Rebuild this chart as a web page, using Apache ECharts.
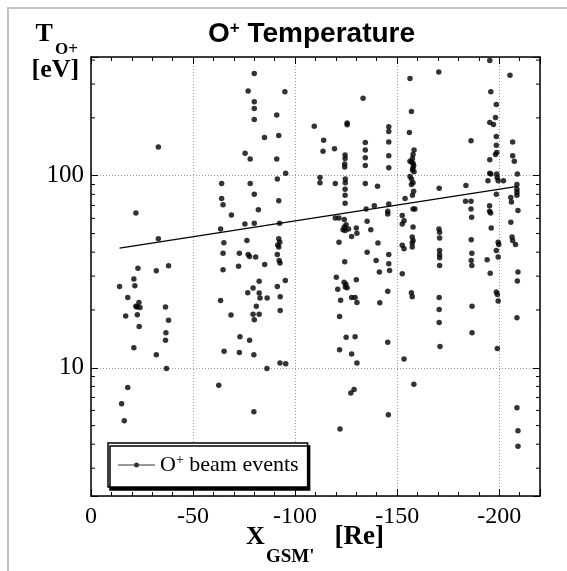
<!DOCTYPE html>
<html>
<head>
<meta charset="utf-8">
<script src="https://cdn.jsdelivr.net/npm/echarts@6/dist/echarts.min.js"></script>
<style>html,body{margin:0;padding:0;background:#fff}#c{width:567px;height:571px}</style>
</head>
<body>
<div id="c"></div>
<script>
// ---- data (X_GSM' [Re], T_O+ [eV]) ----
const eventsNear = [[-33,141],[-22,64],[-33,47],[-23,33],[-32,32],[-38,34],[-21,29],[-21.5,26.7],[-14,26.5],[-18,23.2],[-23.5,21.9],[-22.5,20.7],[-24,20.6],[-22,20.9],[-17,18.6],[-22.7,18.9],[-23.6,16.4],[-36.5,20.7],[-38,17.7],[-36.7,15.2],[-36.5,13.9],[-21,12.7],[-32,11.7],[-37,9.9],[-18,7.9],[-15,6.5],[-16.3,5.3]];
const eventsMid = [[-80,341],[-77,276],[-80,243],[-80,224],[-80,196],[-95,274],[-91,207],[-92,162],[-85,158],[-75.5,131],[-78,122],[-91,122],[-95.4,103],[-91.3,96],[-64,91],[-78,91],[-80,80],[-64,76],[-92,74],
[-64.7,70.6],[-68.8,62.5],[-82,66.4],[-63.5,52.8],[-75.4,56.1],[-80,56.6],[-92.4,56.6],[-65.1,44.8],[-76.4,46],[-92,46.9],[-92.5,45.1],[-91.5,43.6],[-92,42.5],[-64.7,39.5],[-72.7,39.5],[-77,38.9],[-77.7,38],[-80.7,37.7],[-85.1,34.5],[-72.3,33.8],[-64.7,32.4],[-91.3,38.9],[-92.2,36.2],[-92.6,35.1],[-82.4,28.2],[-79.4,26],[-76.8,24.6],[-82.4,24.5],[-91.3,26.5],[-95.2,28.5],[-82.8,23.1],[-86.3,23.1],[-92.7,23.4],[-63.5,22.4],[-81,20.9],[-92.7,19.9],[-68.6,18.8],[-79.4,19],[-82.4,19],[-80,17.8],[-73,14.5],[-77.7,13.9],[-65.2,12.2],[-72.7,12],[-79.8,11.7],[-92.6,10.6],[-95.4,10.5],[-86.2,9.9],[-62.6,8.1],[-79.8,5.9]];
const eventsFar = [[-133.3,253],[-109.4,181],[-114,153],[-125.5,188],[-125.5,184],[-113.7,134],[-119.3,138],[-124.5,128],[-124.5,123],[-124.3,115],[-124.3,111],[-134.4,149],[-134.4,136],[-134.4,124],[-134.4,113],[-145.9,180],[-145.9,170],[-145.9,150],[-145.9,127],[-145.9,110],[-112.2,98],[-112.2,92],[-119.7,91],[-124.6,96],[-124.6,92],[-124.5,85],[-124.5,79],[-134.4,91],[-140.4,88],
[-124.5,71.8],[-119.7,60.3],[-121.5,60.3],[-124.1,59.1],[-125,55.5],[-124.1,54],[-123.5,52.3],[-126.2,52.8],[-124.5,51.9],[-130,53.5],[-130.3,50.2],[-127.7,48.2],[-135.3,57.9],[-137.1,52.3],[-134.8,67.1],[-138.8,69.8],[-121.5,45.1],[-140.6,44.6],[-145.4,65.3],[-145.4,63.2],[-145.9,71.3],[-135.3,40],[-139.7,36.2],[-145.9,38.9],[-145.9,34.8],[-124.3,35.6],[-141.3,31.5],[-146.3,32.1],[-120.2,29.6],[-124,27.9],[-124.9,27.2],[-125.5,26.1],[-124.6,26.3],[-120.9,25.6],[-130,28.7],[-122.3,22.5],[-127.7,23.2],[-129.4,23.2],[-130.3,21.9],[-141.5,21.8],[-145.4,25],[-121.8,18.5],[-125,14.4],[-129.4,14.5],[-145.4,13.6],[-121.8,12.4],[-127.7,11.8],[-130.3,10.6],
[-127.3,7.4],[-128.9,7.7],[-122,4.8],[-145.7,5.7]];
const eventsTail = [[-156.3,321],[-157,216],[-156,168],[-158.3,136],[-157.8,129],[-157.5,123],[-156.3,119],[-157,118],[-157.8,116],[-158.1,113],[-157.8,110],[-157.5,107],[-158.3,105],[-156.3,99],[-157,96],[-157.8,92],[-157,90],[-158.1,83],[-157.5,79],[-153.9,76],[-157.8,67],[-158.7,67],
[-152.5,62],[-153.4,58.3],[-152.5,56.1],[-157.8,54],[-157.4,47.9],[-157.8,46],[-157.4,44.6],[-157.4,42.5],[-152.5,43.4],[-153.4,41.6],[-152.5,30.9],[-157,24.6],[-157.4,23.4],[-153.4,11.1],[-158.2,8.2],
[-170.4,347],[-170.6,86],[-170.5,52.8],[-170.8,50.8],[-170.8,47.4],[-170.8,40.8],[-170.8,38.9],[-170.8,37.4],[-170.8,34.1],[-170.6,23.2],[-170.6,20.1],[-170.6,17.2],[-171,12.9],
[-186.2,152],[-183.7,89],[-183.5,73.6],[-186.2,73.6],[-186.2,67.1],[-186.5,60.8],[-186.3,46.4],[-186.6,39.5],[-186.3,36.2],[-186.6,34.1],[-186.7,20.9],[-186.7,15.2],
[-195.4,398],[-195.9,274],[-198.6,235],[-198.2,201],[-195.4,189],[-197.2,185],[-198.6,160],[-198.6,144],[-198.8,132],[-198.2,129],[-195.4,121],[-195.4,103],[-195.9,102],[-198.8,102],[-199,98],[-199.5,94],[-194.5,94],[-202.1,94],[-198.6,80],[-195.3,65.3],[-195.8,64],[-195.3,69.8],[-196.1,53.5],[-195.6,31.1],[-198.6,40.8],[-199.5,37.7],[-199.5,45.1],[-199.8,43.8],[-198.6,24.8],[-199.1,24.1],[-199.5,22.3],[-194.1,36.5],[-199.1,12.6],
[-205.3,333],[-206.6,150],[-206.6,127],[-207.4,119],[-208.9,102],[-208.7,90],[-208.7,85],[-208.7,82],[-208.7,79],[-205.7,77],[-206,73],[-209.2,65.8],[-205.7,57.3],[-206.3,47.9],[-206.6,46],[-208,43.8],[-209.2,31.5],[-208.9,28.3],[-208.7,18.2],[-208.7,6.2],[-209.2,4.7],[-209.2,3.9]];
const fitLine = [[-14,42],[-209,88]];
const yMinorTicks = [3,4,5,6,7,8,9,20,30,40,50,60,70,80,90,200,300,400];
const yLabelValues = [10,100];
const xRange = [-220, 0];
const yRange = [2.15, 415];

const SERIF = "'Liberation Serif','Times New Roman',serif";
const SANS = "'Liberation Sans',Arial,sans-serif";
const ICON = 'path://M0,2.5L37,2.5L37,3.5L0,3.5Z M16,3A2.5,2.5,0,1,1,21,3A2.5,2.5,0,1,1,16,3Z';

const chart = echarts.init(document.getElementById('c'), null, {renderer:'canvas'});

function xAxisCfg(pos, labels){
  return {
    type:'value', position:pos, min:xRange[0], max:xRange[1], inverse:true,
    splitNumber:5, minInterval:50, maxInterval:50,
    axisLine:{show:true, onZero:false, lineStyle:{color:'#000', width:1.5}},
    axisTick:{show:true, inside:true, length:7, lineStyle:{color:'#000', width:1}},
    minorTick:{show:true, splitNumber:5, length:4, lineStyle:{color:'#000', width:1}},
    axisLabel:{show:labels, margin:9, fontFamily:SERIF, fontSize:24, color:'#000',
      formatter: v => (Math.abs(v % 50) < 1e-9 ? String(v) : '')},
    splitLine:{show:labels, lineStyle:{color:'#999', type:[1,2], width:1}}
  };
}
function yAxisCfg(pos, labels){
  return {
    type:'log', logBase:10, position:pos, min:yRange[0], max:yRange[1],
    axisLine:{show:true, onZero:false, lineStyle:{color:'#000', width:1.5}},
    axisTick:{show:true, inside:true, length:7, lineStyle:{color:'#000', width:1}},
    axisLabel:{show:labels, margin:7, fontFamily:SERIF, fontSize:25, color:'#000',
      formatter: v => (yLabelValues.some(t => Math.abs(v - t) < 1e-6) ? String(Math.round(v)) : '')},
    splitLine:{show:labels, lineStyle:{color:'#999', type:[1,2], width:1}}
  };
}

const option = {
  animation:false,
  backgroundColor:'#fff',
  title:{
    text:'{o|O}{p|+}{t| Temperature}',
    left:203, top:15,
    textStyle:{
      fontFamily:SANS, fontWeight:'bold', fontSize:28, color:'#000',
      rich:{
        o:{fontFamily:SANS, fontWeight:'bold', fontSize:28, color:'#000'},
        p:{fontFamily:SANS, fontWeight:'bold', fontSize:17, lineHeight:17, verticalAlign:'top', color:'#000'},
        t:{fontFamily:SANS, fontWeight:'bold', fontSize:28, color:'#000'}
      }
    }
  },
  grid:{left:91, right:27, top:57, bottom:75},
  xAxis:[xAxisCfg('bottom', true), xAxisCfg('top', false)],
  yAxis:[yAxisCfg('left', true), yAxisCfg('right', false)],
  legend:{
    data:[{name:'O+ beam events', icon:ICON}],
    left:108, top:443, padding:[10,9,10,10],
    itemWidth:37, itemHeight:5, selectedMode:false,
    borderColor:'#000', borderWidth:1.5, backgroundColor:'#fff',
    shadowColor:'#000', shadowOffsetX:2, shadowOffsetY:3, shadowBlur:0,
    formatter: () => '{o|O}{p|+}{t| beam events}',
    textStyle:{
      color:'#000', fontFamily:SERIF, fontSize:22, lineHeight:24,
      rich:{
        o:{fontFamily:SERIF, fontSize:22, color:'#000'},
        p:{fontFamily:SERIF, fontSize:14, lineHeight:14, verticalAlign:'top', color:'#000'},
        t:{fontFamily:SERIF, fontSize:22, color:'#000'}
      }
    }
  },
  series:[
    {
      name:'fit', type:'line', data:fitLine, symbol:'none', z:3,
      lineStyle:{color:'#000', width:1.3}, silent:true
    },
    {
      name:'O+ beam events', type:'scatter', z:4,
      data:[].concat(eventsNear, eventsMid, eventsFar, eventsTail),
      symbol:'circle', symbolSize:5.5,
      itemStyle:{color:'#000'}
    },
    {
      name:'minorTicks', type:'custom', silent:true, z:5,
      data: yMinorTicks.map(v => [xRange[1], v]),
      renderItem:(params, api) => {
        const v = api.value(1);
        const l = api.coord([xRange[1], v]);
        const r = api.coord([xRange[0], v]);
        return {type:'group', children:[
          {type:'line', shape:{x1:l[0], y1:l[1], x2:l[0]+4, y2:l[1]}, style:{stroke:'#000', lineWidth:1}},
          {type:'line', shape:{x1:r[0]-4, y1:r[1], x2:r[0], y2:r[1]}, style:{stroke:'#000', lineWidth:1}}
        ]};
      }
    }
  ],
  graphic:[
    {type:'rect', silent:true, z:-10, shape:{x:8, y:8, width:640, height:640}, style:{fill:'none', stroke:'#c4c4c4', lineWidth:2}},
    {type:'text', silent:true, style:{text:'T', x:35.5, y:34, font:"bold 26px 'Liberation Serif'", fill:'#000', align:'left', verticalAlign:'middle'}},
    {type:'text', silent:true, style:{text:'O+', x:55, y:50, font:"bold 17px 'Liberation Serif'", fill:'#000', align:'left', verticalAlign:'middle'}},
    {type:'text', silent:true, style:{text:'[eV]', x:31.5, y:70.5, font:"bold 26px 'Liberation Serif'", fill:'#000', align:'left', verticalAlign:'middle'}},
    {type:'text', silent:true, style:{text:'X', x:246, y:537, font:"bold 26px 'Liberation Serif'", fill:'#000', align:'left', verticalAlign:'middle'}},
    {type:'text', silent:true, style:{text:"GSM'", x:266, y:557, font:"bold 19px 'Liberation Serif'", fill:'#000', align:'left', verticalAlign:'middle'}},
    {type:'text', silent:true, style:{text:'[Re]', x:334.5, y:537, font:"bold 27px 'Liberation Serif'", fill:'#000', align:'left', verticalAlign:'middle'}}
  ]
};
chart.setOption(option);
</script>
</body>
</html>
